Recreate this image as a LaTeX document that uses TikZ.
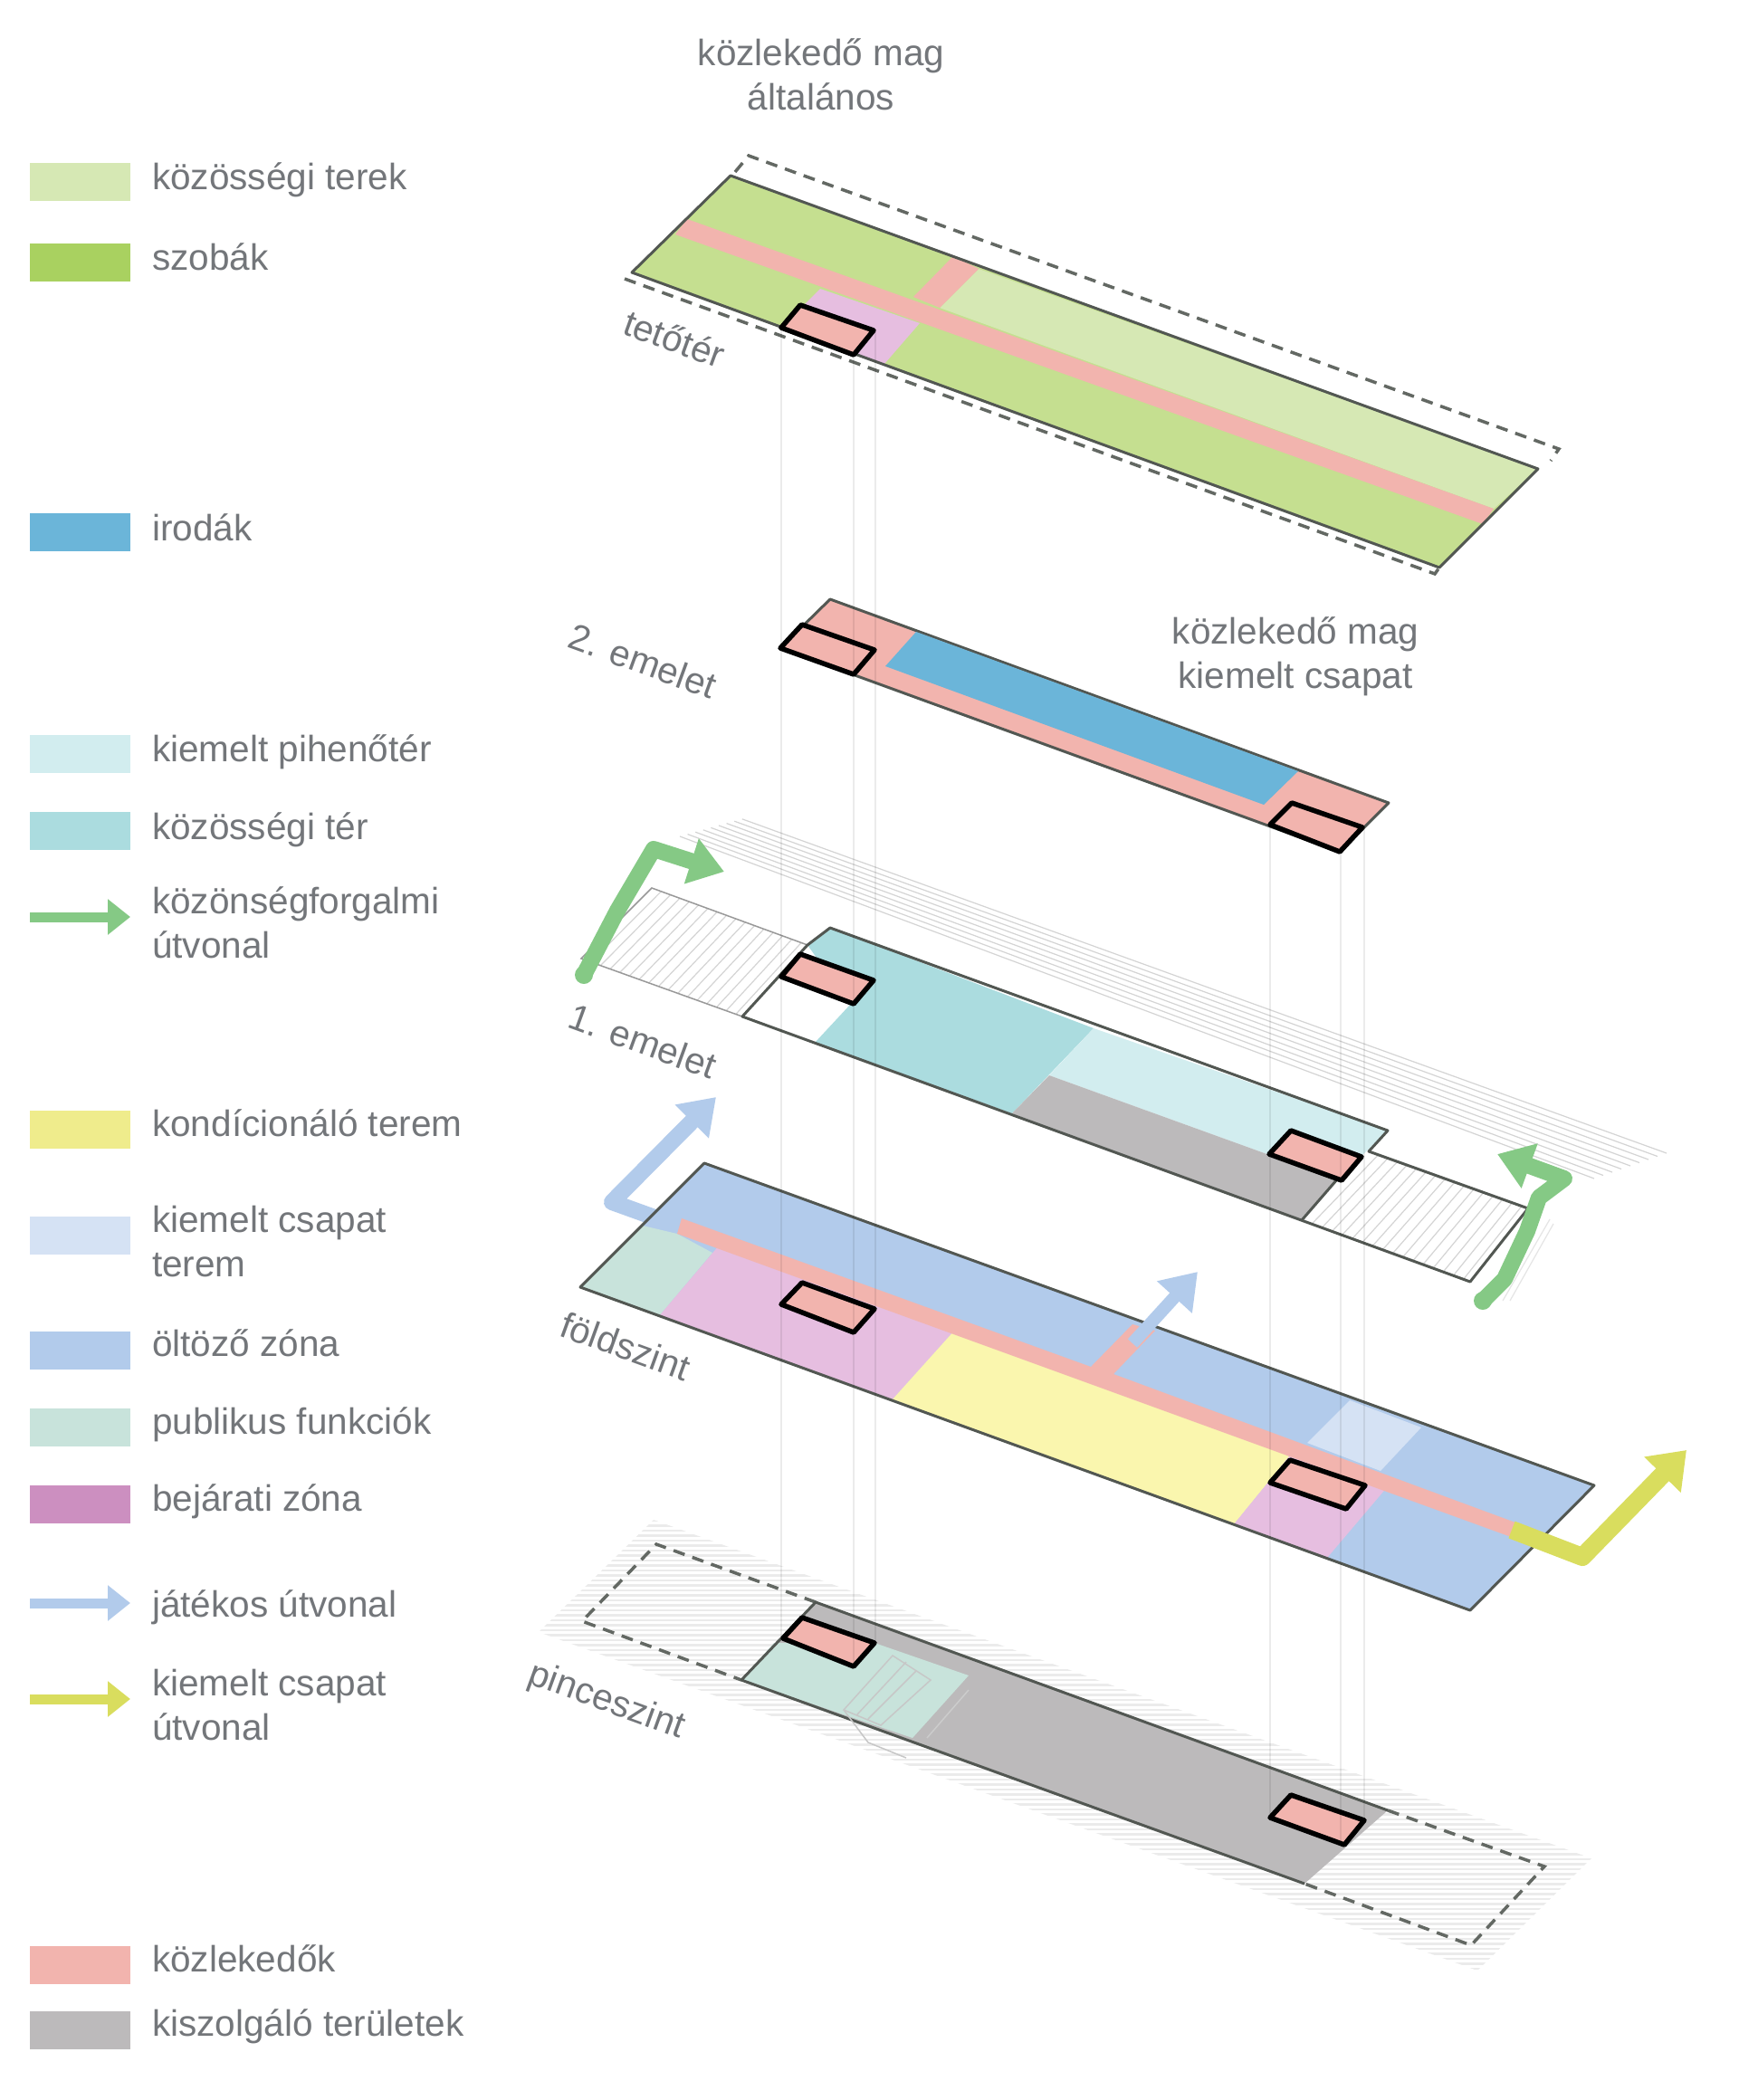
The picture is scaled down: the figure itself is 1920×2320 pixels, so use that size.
\documentclass[tikz,border=0pt]{standalone}
\usepackage{xcolor}
\usepackage{fontspec}
\setmainfont{Liberation Sans}
\usetikzlibrary{arrows.meta, calc}
\definecolor{kozter}{HTML}{D6E8B4}
\definecolor{szoba}{HTML}{C5DF90}
\definecolor{szobaleg}{HTML}{A9D160}
\definecolor{kozl}{HTML}{F2B4AE}
\definecolor{lila}{HTML}{E6BEE0}
\definecolor{lilaleg}{HTML}{CC8FC0}
\definecolor{iroda}{HTML}{6BB5D9}
\definecolor{teal}{HTML}{ABDCDF}
\definecolor{tealvil}{HTML}{D2EDEF}
\definecolor{szurke}{HTML}{BCBABB}
\definecolor{sarga}{HTML}{FAF6AE}
\definecolor{sargaleg}{HTML}{EFEC8C}
\definecolor{kek}{HTML}{B2CBEB}
\definecolor{kekvil}{HTML}{D5E2F4}
\definecolor{publ}{HTML}{C8E3DB}
\definecolor{zoldut}{HTML}{85C985}
\definecolor{sargaut}{HTML}{D9DD5E}
\definecolor{szoveg}{HTML}{73767A}
\definecolor{vonal}{HTML}{525752}
\begin{document}
\begin{tikzpicture}[x=1pt,y=-1pt]
			\tikzstyle{every node} = [font = \fontsize{40.5}{49}\selectfont, text = szoveg, inner sep = 0pt]
			\tikzstyle{swatch} = [minimum width = 111pt, minimum height = 42pt, anchor = north west]
			\tikzstyle{label} = [anchor = base west]
			\tikzstyle{floorlabel} = [rotate = -20]
			\tikzstyle{outline} = [draw = vonal, line width = 3pt, line join = round]
			\tikzstyle{dashline} = [draw = vonal!90, line width = 3.5pt, dash pattern = on 13pt off 9pt]
			\tikzstyle{corebox} = [draw = black, fill = kozl, line width = 5.5pt, line join = round]
			\tikzstyle{hatch} = [draw = black!17, line width = 1.2pt]
			\tikzstyle{faint} = [draw = black!10, line width = 1.2pt]
			\tikzstyle{route} = [line width = 18pt, line join = round, -{Triangle[length = 38pt, width = 50pt]}]
			\tikzstyle{legendroute} = [line width = 11pt, -{Triangle[length = 25pt, width = 38pt]}]
			\useasboundingbox (0,0) rectangle (1920,2320);
			\fill[white] (0,0) rectangle (1920,2320);

			\node[swatch, fill = kozter] (sKozter) at (33,180) {};
			\node[label] (tKozter) at (168,209) {közösségi terek};
			\node[swatch, fill = szobaleg] (sSzoba) at (33,269) {};
			\node[label] (tSzoba) at (168,298) {szobák};
			\node[swatch, fill = iroda] (sIroda) at (33,567) {};
			\node[label] (tIroda) at (168,597) {irodák};
			\node[swatch, fill = tealvil] (sPiheno) at (33,812) {};
			\node[label] (tPiheno) at (168,841) {kiemelt pihenőtér};
			\node[swatch, fill = teal] (sKozos) at (33,897) {};
			\node[label] (tKozos) at (168,927) {közösségi tér};
			\coordinate (aZoldA) at (33,1013);
			\coordinate (aZoldB) at (144,1013);
			\draw[legendroute, zoldut] (aZoldA) -- (aZoldB);
			\node[anchor = west, align = left] (tZold) at (168,1019) {közönségforgalmi\\útvonal};
			\node[swatch, fill = sargaleg] (sKond) at (33,1227) {};
			\node[label] (tKond) at (168,1255) {kondícionáló terem};
			\node[swatch, fill = kekvil] (sTerem) at (33,1344) {};
			\node[anchor = west, align = left] (tTerem) at (168,1372) {kiemelt csapat\\terem};
			\node[swatch, fill = kek] (sOlto) at (33,1471) {};
			\node[label] (tOlto) at (168,1498) {öltöző zóna};
			\node[swatch, fill = publ] (sPubl) at (33,1556) {};
			\node[label] (tPubl) at (168,1584) {publikus funkciók};
			\node[swatch, fill = lilaleg] (sBej) at (33,1641) {};
			\node[label] (tBej) at (168,1669) {bejárati zóna};
			\coordinate (aKekA) at (33,1771);
			\coordinate (aKekB) at (144,1771);
			\draw[legendroute, kek] (aKekA) -- (aKekB);
			\node[label] (tKek) at (168,1786) {játékos útvonal};
			\coordinate (aSargaA) at (33,1877);
			\coordinate (aSargaB) at (144,1877);
			\draw[legendroute, sargaut] (aSargaA) -- (aSargaB);
			\node[anchor = west, align = left] (tSarga) at (168,1884) {kiemelt csapat\\útvonal};
			\node[swatch, fill = kozl] (sKozl) at (33,2150) {};
			\node[label] (tKozl) at (168,2178) {közlekedők};
			\node[swatch, fill = szurke] (sSzurke) at (33,2222) {};
			\node[label] (tSzurke) at (168,2249) {kiszolgáló területek};

			\node[align = center] (tMagA) at (907,82) {közlekedő mag\\általános};
			\node[align = center] (tMagB) at (1431,725) {közlekedő mag\\kiemelt csapat};
			\node[floorlabel] (tTeto) at (745,374) {tetőtér};
			\node[floorlabel] (tMasod) at (710,730) {2. emelet};
			\node[floorlabel] (tElso) at (710,1150) {1. emelet};
			\node[floorlabel] (tFold) at (691,1487) {földszint};
			\node[floorlabel] (tPince) at (670,1880) {pinceszint};

			\path[dashline] (812,190) -- (827,172) -- (1722,496) -- (1713,509);
			\path[dashline] (690,308) -- (1585,634) -- (1590,627);
			\path[fill = szoba] (807,194) -- (1699,518) -- (1590,627) -- (698,301) -- cycle;
			\path[fill = kozter] (1081,297) -- (1699,518) -- (1650,562) -- (1038,340) -- cycle;
			\path[fill = lila] (906,319) -- (1016,357) -- (977,402) -- (863,362) -- cycle;
			\path[fill = kozl] (759,242) -- (1650,562) -- (1638,579) -- (746,259) -- cycle;
			\path[fill = kozl] (1053,283) -- (1081,297) -- (1038,340) -- (1009,328) -- cycle;
			\path[outline] (807,194) -- (1699,518) -- (1590,627) -- (698,301) -- cycle;
			\path[corebox] (884,337) -- (965,365) -- (943,392) -- (863,362) -- cycle;

			\path[fill = kozl, outline] (917,662) -- (1534,887) -- (1480,941) -- (862,716) -- cycle;
			\path[fill = iroda] (1012,698) -- (1434,852) -- (1396,889) -- (978,736) -- cycle;
			\path[corebox] (886,690) -- (966,718) -- (943,745) -- (862,716) -- cycle;
			\path[corebox] (1427,887) -- (1505,914) -- (1480,941) -- (1403,911) -- cycle;

			\foreach \t in {0,...,8}
				\path[hatch] ({751+\t*8.6},{924-\t*2.4}) -- ({1761+\t*10},{1302-\t*3.5});
			\path[faint] (1660,1437) -- (1712,1347) (1668,1437) -- (1716,1352);

			\coordinate (hla) at (720,981);
			\coordinate (hlb) at (892,1044);
			\coordinate (hlc) at (820,1123);
			\coordinate (hld) at (642,1059);
			\coordinate (hra) at (1512,1272);
			\coordinate (hrb) at (1688,1335);
			\coordinate (hrc) at (1624,1416);
			\coordinate (hrd) at (1438,1348);
			\foreach \t in {0.06,0.12,...,0.97} {
				\path[hatch] ($(hla)!\t!(hlb)$) -- ($(hld)!\t!(hlc)$);
				\path[hatch] ($(hra)!\t!(hrb)$) -- ($(hrd)!\t!(hrc)$);
			}
			\path[draw = black!40, line width = 1.5pt] (hlb) -- (hla) -- (hld) -- (hlc);
			\path[fill = teal] (917,1025) -- (1208,1136) -- (1118,1230) -- (900,1152) -- (939,1110) -- (892,1044) -- cycle;
			\path[fill = tealvil] (1208,1136) -- (1533,1249) -- (1477,1303) -- (1159,1188) -- cycle;
			\path[fill = szurke] (1159,1188) -- (1477,1303) -- (1438,1348) -- (1118,1230) -- cycle;
			\path[outline] (892,1044) -- (917,1025) -- (1533,1249) -- (1512,1272) -- (1688,1335) -- (1624,1416) -- (820,1123) -- cycle;
			\path[outline] (1477,1303) -- (1438,1348);
			\path[corebox] (884,1054) -- (965,1083) -- (943,1109) -- (863,1079) -- cycle;
			\path[corebox] (1426,1249) -- (1504,1278) -- (1482,1304) -- (1402,1275) -- cycle;
			\draw[route, zoldut] (645,1077) -- (682,1006) -- (722,938) -- (800,963);
			\fill[zoldut] (645,1077) circle (10pt);
			\draw[route, zoldut] (1638,1437) -- (1662,1413) -- (1687,1360) -- (1700,1323) -- (1728,1302) -- (1654,1275);
			\fill[zoldut] (1638,1437) circle (10pt);

			\path[fill = kek] (778,1285) -- (1761,1641) -- (1624,1779) -- (641,1422) -- cycle;
			\path[fill = publ] (641,1422) -- (710,1354) -- (748,1363) -- (787,1384) -- (728,1454) -- cycle;
			\path[fill = lila] (795,1375) -- (1056,1468) -- (985,1547) -- (728,1454) -- cycle;
			\path[fill = sarga] (1056,1468) -- (1429,1603) -- (1363,1684) -- (985,1547) -- cycle;
			\path[fill = lila] (1429,1603) -- (1533,1642) -- (1466,1721) -- (1363,1684) -- cycle;
			\path[fill = kekvil] (1491,1547) -- (1570,1577) -- (1525,1625) -- (1444,1594) -- cycle;
			\draw[route, kek] (737,1350) -- (676,1328) -- (791,1212);
			\path[fill = kozl] (753,1346) -- (1205,1510) -- (1251,1463) -- (1276,1470) -- (1230,1518) -- (1674,1682) -- (1694,1707) -- (748,1363) -- cycle;
			\path[outline] (778,1285) -- (1761,1641) -- (1624,1779) -- (641,1422) -- cycle;
			\path[corebox] (886,1417) -- (966,1446) -- (943,1472) -- (863,1441) -- cycle;
			\path[corebox] (1425,1613) -- (1508,1641) -- (1487,1667) -- (1403,1638) -- cycle;
			\draw[route, kek, line width = 14pt] (1251,1484) -- (1323,1405);
			\draw[route, sargaut, line width = 20pt, -{Triangle[length = 38pt, width = 54pt]}] (1670,1690) -- (1748,1720) -- (1863,1602);

			\begin{scope}
				\clip (722,1679) -- (1758,2053) -- (1632,2177) -- (595,1803) -- cycle;
				\foreach \y in {1680,1685.5,...,2177}
					\path[draw = black!8, line width = 2.4pt] (590,\y) -- (1765,\y);
			\end{scope}
			\path[dashline] (901,1770) -- (725,1706) -- (643,1791) -- (819,1856);
			\path[dashline] (1533,2000) -- (1706,2062) -- (1625,2149) -- (1441,2081);
			\path[fill = szurke] (901,1770) -- (1533,2000) -- (1441,2081) -- (819,1856) -- cycle;
			\path[fill = publ] (855,1815) -- (966,1815) -- (1070,1851) -- (1008,1920) -- (819,1856) -- cycle;
			\path[outline] (1533,2000) -- (901,1770) -- (819,1856) -- (1441,2081);
			\path[draw = black!22, line width = 1.5pt] (986,1829) -- (1028,1856) -- (973,1906) -- (932,1889) -- cycle
				(1001,1836) -- (947,1894) (1012,1846) -- (959,1899) (932,1889) -- (959,1925) -- (1001,1942);
			\path[draw = black!20, line width = 1.5pt] (1070,1867) -- (1024,1920);
			\path[corebox] (886,1787) -- (966,1815) -- (943,1841) -- (865,1810) -- cycle;
			\path[corebox] (1426,1983) -- (1507,2011) -- (1485,2038) -- (1403,2008) -- cycle;

			\foreach \x/\a/\b in {863/362/1810, 943/392/1841, 967/365/1815, 1403/911/2008, 1481/941/2038, 1507/914/2011}
				\path[draw = black, opacity = 0.08, line width = 1.2pt] (\x,\a) -- (\x,\b);
\end{tikzpicture}
\end{document}
